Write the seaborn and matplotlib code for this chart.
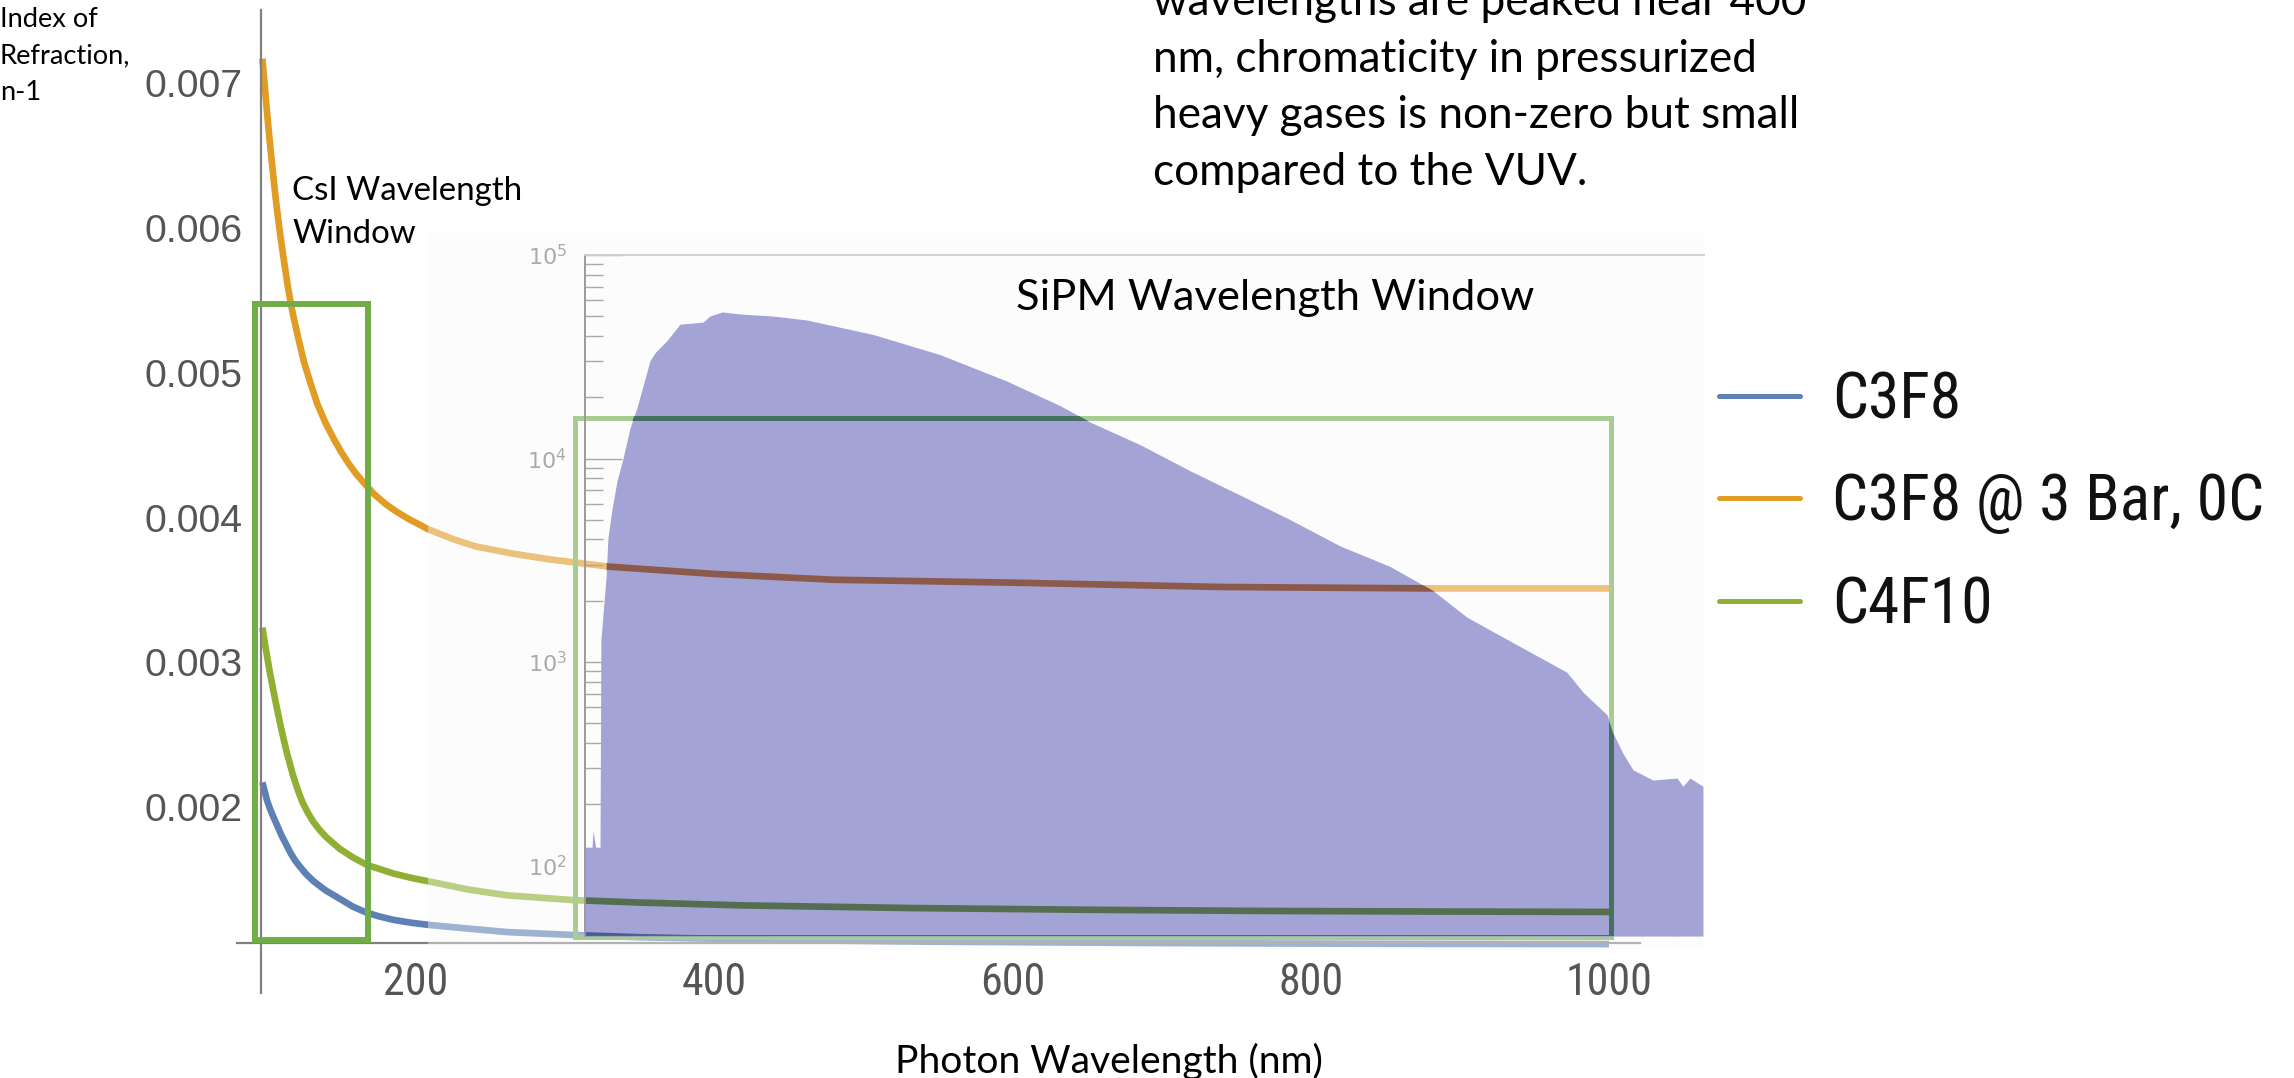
import numpy as np
import pandas as pd
import matplotlib
matplotlib.use("Agg")
import matplotlib.pyplot as plt
import seaborn as sns
from matplotlib.lines import Line2D
from matplotlib.patches import Rectangle
from matplotlib.ticker import FixedLocator, FixedFormatter, NullFormatter
from matplotlib import font_manager as fm

# ---------------- data ----------------
gas_names = ["C3F8", "C3F8 @ 3 Bar, 0C", "C4F10"]

c3f8_wl = [97, 98.5, 100, 102, 104, 107, 110, 113, 116, 119, 122, 126, 131, 136, 140,
           145, 149, 158, 167, 175, 185, 197, 209, 235, 261, 305, 350, 400, 470, 540,
           620, 700, 780, 850, 920, 1000]
c3f8_n = [0.00217, 0.00211, 0.00205, 0.00199, 0.00194, 0.00187, 0.00180, 0.00174,
          0.00168, 0.00163, 0.00159, 0.00154, 0.00149, 0.00145, 0.00142, 0.00139,
          0.001365, 0.00131, 0.00127, 0.001245, 0.00122, 0.00120, 0.001185, 0.00116,
          0.001136, 0.001116, 0.00110, 0.00109, 0.001078, 0.00107, 0.001065, 0.00106,
          0.001057, 0.001055, 0.001054, 0.001053]

c3f8_3bar_wl = [97, 99, 100, 101, 102, 103.5, 105, 107, 109, 111.5, 114, 116, 118, 121.5,
                125, 129.5, 134, 139.5, 145, 150, 155, 160, 165, 172, 180, 187, 195, 208,
                225, 240, 265, 290, 330, 400, 480, 600, 740, 880, 1000]
c3f8_3bar_n = [0.00717, 0.00693, 0.00681, 0.00670, 0.00659, 0.00644, 0.00629, 0.00611,
               0.00595, 0.00577, 0.00560, 0.00548, 0.00538, 0.00522, 0.00507, 0.00492,
               0.00478, 0.00465, 0.00454, 0.00445, 0.00437, 0.00430, 0.00424, 0.00416,
               0.00409, 0.00404, 0.00399, 0.00392, 0.00385, 0.00380, 0.00375, 0.00371,
               0.00366, 0.00361, 0.00357, 0.00355, 0.00352, 0.00351, 0.00351]

c4f10_wl = [97, 98.5, 100, 102, 105, 109, 113, 117.5, 121, 124, 127.5, 131, 135.5, 140,
            149, 158, 167, 176, 185, 197, 209, 235, 261, 305, 350, 420, 532, 650, 767,
            880, 1000]
c4f10_n = [0.00324, 0.00314, 0.00305, 0.00293, 0.00277, 0.00257, 0.00239, 0.00222,
           0.00211, 0.00203, 0.00196, 0.00190, 0.00184, 0.00179, 0.00171, 0.00165,
           0.00160, 0.00157, 0.00154, 0.00151, 0.001485, 0.00143, 0.00139, 0.001357,
           0.00134, 0.00132, 0.001302, 0.00129, 0.001282, 0.001278, 0.001275]

# SiPM spectrum (inset histogram, log counts) vs wavelength on the main axis scale
sipm_wl = [313.5, 318.0, 318.7, 320.5, 323.4, 324.0, 327.5, 328.7, 331.4, 334.8,
           338.8, 343.5, 348.2, 351.6, 356.9, 360.3, 368.3, 377.0, 392.5, 397.0,
           405.2, 417.3, 440.0, 462.2, 506.5, 551.4, 596.3, 631.8, 652.0, 685.5,
           719.0, 752.6, 786.1, 819.6, 853.1, 882.0, 904.8, 926.9, 949.0, 971.8,
           982.6, 998.7, 1002.7, 1009.4, 1016.1, 1029.5, 1045.6, 1049.6, 1054.3, 1063.0]
sipm_counts = [123, 123, 148, 123, 123, 1290, 2630, 4070, 5620, 7760,
               10000, 14100, 17800, 21900, 30200, 33100, 38000, 45700, 46800, 50100,
               52500, 51300, 50100, 47900, 40700, 32400, 24000, 18200, 15100, 11700,
               8710, 6610, 5010, 3720, 2950, 2240, 1660, 1350, 1100, 890,
               710, 550, 447, 355, 295, 263, 269, 245, 269, 245]
sipm_floor = 45

# wavelength windows (nm, n-1)
csi_window_x = [92.0, 167.8]
csi_window_y = [0.001081, 0.005478]
sipm_window_x = [306.6, 1001.3]
sipm_window_y = [0.0011, 0.004687]
inset_panel_x = [208.0, 1063.7]
inset_panel_y = [0.001013, 0.005965]

x_major_ticks = [200, 400, 600, 800, 1000]
x_tick_labels = ["200", "400", "600", "800", "1000"]
y_major_ticks = [0.002, 0.003, 0.004, 0.005, 0.006, 0.007]
y_tick_labels = ["0.002", "0.003", "0.004", "0.005", "0.006", "0.007"]
inset_decades = [1e2, 1e3, 1e4, 1e5]
inset_labels = [r"$10^{2}$", r"$10^{3}$", r"$10^{4}$", r"$10^{5}$"]

annotation_lines = ["wavelengths are peaked near 400",
                    "nm, chromaticity in pressurized",
                    "heavy gases is non-zero but small",
                    "compared to the VUV."]

# ---------------- style ----------------
sns.set_theme(style="white")
plt.rcParams["font.family"] = ["Lato", "DejaVu Sans"]
plt.rcParams["mathtext.fontset"] = "dejavusans"


def has_font(name):
    try:
        fm.findfont(fm.FontProperties(family=name), fallback_to_default=False)
        return True
    except Exception:
        return False


def first_font(names):
    for n in names:
        if has_font(n):
            return n
    return "DejaVu Sans"


NARROW = first_font(["Liberation Sans Narrow", "Roboto Condensed", "DejaVu Sans Condensed",
                     "Liberation Sans"])
IS_NARROW = NARROW != "Liberation Sans"
ARIAL = first_font(["Liberation Sans"])
BODY = first_font(["Lato"])

W, H, DPI = 2294, 1078, 100
fig = plt.figure(figsize=(W / DPI, H / DPI), dpi=DPI, facecolor="white")
renderer = fig.canvas.get_renderer()
PT = DPI / 72.0  # px per point

# pixel geometry of the main plot
PX_PER_NM, PX_200 = 1.49125, 416.0
PX_PER_UNIT, PY_0002 = 144750.0, 807.0


def px_of(nm):
    return PX_200 + (nm - 200) * PX_PER_NM


def py_of(v):
    return PY_0002 - (v - 0.002) * PX_PER_UNIT


X_LIM = (80, 1066)
Y_LIM = (0.000715, 0.007506)
left, right = px_of(X_LIM[0]), px_of(X_LIM[1])
top, bottom = py_of(Y_LIM[1]), py_of(Y_LIM[0])
rect = [left / W, 1 - bottom / H, (right - left) / W, (bottom - top) / H]

ax = fig.add_axes(rect, label="main")
ax2 = fig.add_axes(rect, label="inset")
ax2.patch.set_visible(False)

palette = dict(zip(gas_names, ["#5E81B5", "#E19C24", "#8FB032"]))
over_hist = dict(zip(gas_names, ["#4b5a90", "#8c5a4b", "#556e50"]))
series = [(gas_names[0], c3f8_wl, c3f8_n),
          (gas_names[1], c3f8_3bar_wl, c3f8_3bar_n),
          (gas_names[2], c4f10_wl, c4f10_n)]

df = pd.concat([pd.DataFrame({"wavelength": xs, "n1": ys, "gas": g}) for g, xs, ys in series],
               ignore_index=True)

ax.set_xlim(*X_LIM)
ax.set_ylim(*Y_LIM)
sns.lineplot(data=df, x="wavelength", y="n1", hue="gas", hue_order=gas_names,
             palette=palette, estimator=None, linewidth=4.8, legend=False, ax=ax, zorder=2,
             solid_joinstyle="round", solid_capstyle="butt")
ax.set_xlim(*X_LIM)
ax.set_ylim(*Y_LIM)
ax.set_xlabel("")
ax.set_ylabel("")

GREEN = "#70ad47"
ax.add_patch(Rectangle((csi_window_x[0], csi_window_y[0]), csi_window_x[1] - csi_window_x[0],
                       csi_window_y[1] - csi_window_y[0], fill=False, ec=GREEN, lw=4.3, zorder=4))
ax.add_patch(Rectangle((sipm_window_x[0], sipm_window_y[0]), sipm_window_x[1] - sipm_window_x[0],
                       sipm_window_y[1] - sipm_window_y[0], fill=False, ec=GREEN, lw=3.6, zorder=2.6))
ax.add_patch(Rectangle((inset_panel_x[0], inset_panel_y[0]), inset_panel_x[1] - inset_panel_x[0],
                       inset_panel_y[1] - inset_panel_y[0], fc="#f8f8f8", ec="none",
                       alpha=0.42, zorder=3))

# main axes styling (Mathematica-like crossing axes)
AXC = "#808080"
for s in ["top", "right"]:
    ax.spines[s].set_visible(False)
ax.spines["left"].set_position(("data", 96))
ax.spines["bottom"].set_position(("data", 0.00106))
ax.spines["bottom"].set_bounds(80, 1021)
for s in ["left", "bottom"]:
    ax.spines[s].set_color(AXC)
    ax.spines[s].set_linewidth(1.6)


def size_for(s, target_px, family):
    t = fig.text(0, 0, s, fontsize=100, family=family)
    w = t.get_window_extent(renderer).width
    t.remove()
    return 100 * target_px / w


xt_size = size_for("200", 65, NARROW) if IS_NARROW else 30
yt_size = size_for("0.007", 98, ARIAL)

ax.set_xticks(x_major_ticks, labels=x_tick_labels, family=NARROW, fontsize=xt_size, color="#555555")
ax.xaxis.set_minor_locator(FixedLocator([v for v in range(100, 1001, 50) if v not in x_major_ticks]))
ax.set_yticks(y_major_ticks, labels=y_tick_labels, family=ARIAL, fontsize=yt_size, color="#555555")
y_minor = [round(0.0008 + 0.0002 * k, 5) for k in range(34)]
ax.yaxis.set_minor_locator(FixedLocator([v for v in y_minor if all(abs(v - m) > 1e-9 for m in y_major_ticks)]))
ax.tick_params(axis="x", which="major", direction="in", length=13 / PT, width=1.1, color=AXC, pad=19 / PT)
ax.tick_params(axis="x", which="minor", direction="in", length=7 / PT, width=1.1, color=AXC)
ax.tick_params(axis="y", which="major", direction="in", length=12 / PT, width=1.1, color=AXC, pad=18 / PT)
ax.tick_params(axis="y", which="minor", direction="in", length=8 / PT, width=1.1, color=AXC)

# ---------------- inset: SiPM spectrum on a log axis ----------------
PY_1E5, PX_PER_DEC = 255.0, 203.5
ax2.set_xlim(*X_LIM)
ax2.set_yscale("log")
ax2.set_ylim(10 ** (5 - (bottom - PY_1E5) / PX_PER_DEC), 10 ** (5 + (PY_1E5 - top) / PX_PER_DEC))
ax2.set_autoscale_on(False)

poly = ax2.fill_between(sipm_wl, sipm_counts, sipm_floor, color="#a3a3d6", lw=0, zorder=1)
clip = poly.get_paths()[0]

for g, xs, ys in series:
    ln, = ax2.plot(xs, ys, color=over_hist[g], lw=4.8, transform=ax.transData, zorder=2,
                   solid_joinstyle="round")
    ln.set_clip_path(clip, ax2.transData)
r_over = Rectangle((sipm_window_x[0], sipm_window_y[0]), sipm_window_x[1] - sipm_window_x[0],
                   sipm_window_y[1] - sipm_window_y[0], fill=False, ec="#46705f", lw=3.6,
                   transform=ax.transData, zorder=2)
ax2.add_patch(r_over)
r_over.set_clip_path(clip, ax2.transData)

INSET_AX_X = 313.3
ax2.spines["right"].set_visible(False)
ax2.spines["left"].set_position(("data", INSET_AX_X))
ax2.spines["left"].set_bounds(sipm_floor, 1e5)
ax2.spines["left"].set_color("#9a9a9a")
ax2.spines["left"].set_linewidth(1.4)
ax2.spines["top"].set_position(("data", 1e5))
ax2.spines["top"].set_bounds(INSET_AX_X, inset_panel_x[1])
ax2.spines["top"].set_color("#cfcfcf")
ax2.spines["top"].set_linewidth(1.3)
ax2.spines["bottom"].set_position(("data", sipm_floor))
ax2.spines["bottom"].set_color("none")

ax2.yaxis.set_major_locator(FixedLocator(inset_decades))
ax2.yaxis.set_major_formatter(FixedFormatter(inset_labels))
ax2.yaxis.set_minor_locator(FixedLocator([k * 10 ** d for d in range(1, 5) for k in range(2, 10)
                                          if k * 10 ** d > sipm_floor]))
ax2.yaxis.set_minor_formatter(NullFormatter())
ax2.tick_params(axis="y", which="major", direction="in", length=37 / PT, width=1.0,
                color="#a8a8a8", labelcolor="#aaaaaa", labelsize=16, pad=18 / PT,
                left=True, right=False, labelleft=True, labelright=False)
ax2.tick_params(axis="y", which="minor", direction="in", length=18 / PT, width=1.0,
                color="#a8a8a8", left=True, right=False)
inset_tick_step = 107.3
ax2.xaxis.set_major_locator(FixedLocator([421.3 + inset_tick_step * k for k in range(-1, 6)]))
ax2.xaxis.set_minor_locator(FixedLocator([421.3 + inset_tick_step / 5 * k for k in range(-5, 30)
                                          if 313 < 421.3 + inset_tick_step / 5 * k < 1063]))
ax2.tick_params(axis="x", which="both", direction="in", color="#b4b4c4", width=1.0,
                labelbottom=False, top=False, bottom=True)
ax2.tick_params(axis="x", which="major", length=20 / PT)
ax2.tick_params(axis="x", which="minor", length=10 / PT)


# ---------------- texts ----------------
def ftext(px, py, s, size, ha="left", family=BODY, **kw):
    return fig.text(px / W, 1 - py / H, s, fontsize=size, ha=ha, va="baseline",
                    family=family, color="black", **kw)


idx_size = size_for("Index of", 98, BODY)
for py, s in zip([27, 63, 100], ["Index of", "Refraction,", "n-1"]):
    ftext(0, py, s, idx_size)

csi_size = size_for("CsI Wavelength", 230, BODY)
ftext(292, 200, "CsI Wavelength", csi_size)
ftext(292, 243, "Window", csi_size)

sipm_size = size_for("SiPM Wavelength Window", 518, BODY)
ftext(1016, 310, "SiPM Wavelength Window", sipm_size)

ph_size = size_for("Photon Wavelength (nm)", 428, BODY)
ftext(1109, 1073, "Photon Wavelength (nm)", ph_size, ha="center")

ann_size = size_for(annotation_lines[2], 647, BODY)
for py, s in zip([15, 72, 128, 185], annotation_lines):
    ftext(1153, py, s, ann_size)

# ---------------- legend ----------------
leg_size = size_for("C3F8 @ 3 Bar, 0C", 455, NARROW)
if IS_NARROW:
    leg_size *= 0.95
leg_px = leg_size * PT
handles = [Line2D([], [], color=palette[g], lw=3.6) for g in gas_names]
leg = fig.legend(handles, gas_names, loc="center left", bbox_to_anchor=(1719 / W, 1 - 503 / H),
                 frameon=False, prop=fm.FontProperties(family=NARROW, size=leg_size),
                 handlelength=81 / leg_px, handletextpad=32 / leg_px,
                 labelspacing=(113 - 1.15 * leg_px) / leg_px, borderpad=0, borderaxespad=0)
for t in leg.get_texts():
    t.set_color("#111111")

fig.savefig("out.png", dpi=DPI, facecolor="white")
